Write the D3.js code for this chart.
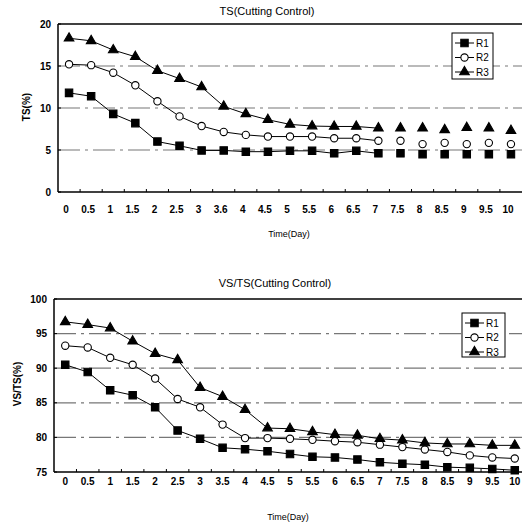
<!DOCTYPE html>
<html><head><meta charset="utf-8">
<script src="https://cdn.jsdelivr.net/npm/d3@7"></script>
<style>body{margin:0;background:#fff}svg{display:block}text{font-family:"Liberation Sans",Arial,sans-serif;fill:#000}</style>
</head><body><svg id="c" width="522" height="527"></svg>
<script>
const days = ["0","0.5","1","1.5","2","2.5","3","3.5","4","4.5","5","5.5","6","6.5","7","7.5","8","8.5","9","9.5","10"];
const tsLabels = ["0","0.5","1","1.5","2","2.5","3","3.6","4","4.5","5","5.5","6","6.5","7","7.5","8","8.5","9","9.5","10"];
const seriesNames = ["R1","R2","R3"];
const tsR1 = [11.8,11.4,9.3,8.2,6.0,5.5,4.95,4.95,4.8,4.8,4.9,4.9,4.6,4.9,4.6,4.6,4.5,4.5,4.5,4.5,4.5];
const tsR2 = [15.2,15.1,14.2,12.7,10.8,9.0,7.85,7.15,6.8,6.6,6.6,6.6,6.4,6.4,6.1,6.1,5.7,5.85,5.7,5.85,5.7];
const tsR3 = [18.3,18.0,16.9,16.1,14.45,13.5,12.5,10.2,9.3,8.6,8.05,7.85,7.8,7.8,7.6,7.6,7.6,7.4,7.65,7.6,7.3];
const vsR1 = [90.5,89.45,86.8,86.1,84.35,81.0,79.8,78.5,78.3,78.0,77.6,77.2,77.1,76.8,76.4,76.2,76.05,75.7,75.6,75.45,75.25];
const vsR2 = [93.25,93.0,91.5,90.5,88.5,85.55,84.35,81.85,79.9,79.9,79.8,79.65,79.45,79.3,78.95,78.6,78.25,77.9,77.4,77.1,76.95];
const vsR3 = [96.7,96.3,95.8,93.9,92.1,91.2,87.2,85.9,84.0,81.35,81.25,80.8,80.4,80.3,79.8,79.6,79.2,79.05,79.05,78.85,78.85];
const tsTicks = [0,5,10,15,20];
const vsTicks = [75,80,85,90,95,100];

const svg = d3.select("#c");

function drawChart(cfg){
  const g = svg.append("g");
  const x = d3.scaleBand().domain(days).range([cfg.left, cfg.right]);
  const y = d3.scaleLinear().domain(cfg.domain).range([cfg.bottom, cfg.top]);
  const cx = d => x(d) + x.bandwidth()/2;
  cfg.grid.forEach(v => {
    g.append("line").attr("x1", cfg.left).attr("x2", cfg.right).attr("y1", y(v)).attr("y2", y(v))
      .attr("stroke", "#777").attr("stroke-width", 1.2).attr("stroke-dasharray", "22,5,3,5");
  });
  g.append("line").attr("x1", cfg.left).attr("x2", cfg.left).attr("y1", cfg.top).attr("y2", cfg.bottom).attr("stroke","#000").attr("stroke-width",1.5);
  g.append("line").attr("x1", cfg.left).attr("x2", cfg.right).attr("y1", cfg.top).attr("y2", cfg.top).attr("stroke","#000").attr("stroke-width",1.5);
  g.append("line").attr("x1", cfg.left).attr("x2", cfg.right).attr("y1", cfg.bottom).attr("y2", cfg.bottom).attr("stroke","#000").attr("stroke-width",1.5);
  days.slice(1).forEach(d => {
    g.append("line").attr("x1", x(d)).attr("x2", x(d)).attr("y1", cfg.bottom).attr("y2", cfg.bottom-3).attr("stroke","#000");
  });
  cfg.ticks.forEach(v => {
    g.append("line").attr("x1", cfg.left).attr("x2", cfg.left+3).attr("y1", y(v)).attr("y2", y(v)).attr("stroke","#000");
    g.append("text").attr("x", cfg.left-7).attr("y", y(v)+3.5).attr("text-anchor","end")
      .attr("font-size", 10).attr("font-weight","bold").text(v);
  });
  days.forEach((d,i) => {
    g.append("text").attr("x", cx(d)+cfg.labelShift).attr("y", cfg.bottom+cfg.labelDy).attr("text-anchor","middle")
      .attr("font-size", 10).attr("font-weight","bold").text(cfg.xLabels[i]);
  });
  g.append("text").attr("x", cfg.titleX).attr("y", cfg.titleY).attr("text-anchor","middle").attr("font-size", 11).text(cfg.title);
  g.append("text").attr("x", cfg.xTitleX).attr("y", cfg.xTitleY).attr("text-anchor","middle").attr("font-size", 9).text("Time(Day)");
  g.append("text").attr("transform", `translate(${cfg.yTitleX},${cfg.yTitleY}) rotate(-90)`).attr("text-anchor","middle")
    .attr("font-size", 10).attr("font-weight","bold").text(cfg.yTitle);
  const sym = [d3.symbolSquare, d3.symbolCircle, d3.symbolTriangle];
  const fills = ["#000","#fff","#000"];
  const sizes = [55, 42, 40];
  cfg.series.forEach((vals, si) => {
    const n = cfg.lineUpTo;
    const line = d3.line().x((v,i)=>cx(days[i])).y(v=>y(v));
    g.append("path").attr("d", line(vals.slice(0, n))).attr("fill","none").attr("stroke","#000").attr("stroke-width",1);
    vals.forEach((v,i) => {
      g.append("path").attr("d", d3.symbol(sym[si], sizes[si])()).attr("transform", `translate(${cx(days[i])},${y(v)})`)
        .attr("fill", fills[si]).attr("stroke","#000").attr("stroke-width",1.1);
    });
  });
  const L = cfg.legend;
  g.append("rect").attr("x", L.x).attr("y", L.y).attr("width", L.w).attr("height", L.h).attr("fill","#fff").attr("stroke","#000").attr("stroke-width",1);
  seriesNames.forEach((nm, si) => {
    const yy = L.y + 10 + si*14.5;
    g.append("line").attr("x1", L.x+3).attr("x2", L.x+22).attr("y1", yy).attr("y2", yy).attr("stroke","#000");
    g.append("path").attr("d", d3.symbol(sym[si], sizes[si])()).attr("transform", `translate(${L.x+12.5},${yy})`)
      .attr("fill", fills[si]).attr("stroke","#000").attr("stroke-width",1.1);
    g.append("text").attr("x", L.x+24).attr("y", yy+3.5).attr("font-size", 10).text(nm);
  });
}

drawChart({
  left: 58, right: 522, top: 24, bottom: 192, domain: [0,20],
  ticks: tsTicks, grid: [5,10,15], xLabels: tsLabels, labelShift: -3, labelDy: 21,
  title: "TS(Cutting  Control)", titleX: 267, titleY: 15,
  xTitleX: 289, xTitleY: 237, yTitle: "TS(%)", yTitleX: 30, yTitleY: 107,
  series: [tsR1, tsR2, tsR3], lineUpTo: 15,
  legend: {x: 452, y: 33, w: 41, h: 46}
});
drawChart({
  left: 54, right: 526, top: 299, bottom: 472, domain: [75,100],
  ticks: vsTicks, grid: [80,85,90,95], xLabels: days, labelShift: 0, labelDy: 13,
  title: "VS/TS(Cutting  Control)", titleX: 275, titleY: 287,
  xTitleX: 288, xTitleY: 520, yTitle: "VS/TS(%)", yTitleX: 21, yTitleY: 384,
  series: [vsR1, vsR2, vsR3], lineUpTo: 21,
  legend: {x: 462, y: 313, w: 43, h: 44}
});
</script></body></html>
